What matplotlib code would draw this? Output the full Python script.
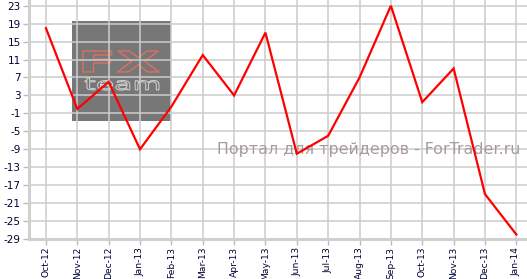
import matplotlib
matplotlib.use('Agg')
import matplotlib.pyplot as plt
from matplotlib.patches import Rectangle, PathPatch
from matplotlib.textpath import TextPath
from matplotlib.font_manager import FontProperties
from matplotlib.transforms import Affine2D

# ── DATA ─────────────────────────────────────────────────────────────────────
months = ['Oct-12', 'Nov-12', 'Dec-12', 'Jan-13', 'Feb-13', 'Mar-13', 'Apr-13',
          'May-13', 'Jun-13', 'Jul-13', 'Aug-13', 'Sep-13', 'Oct-13', 'Nov-13',
          'Dec-13', 'Jan-14']
values = [18, 0, 6, -9, 0.5, 12, 3, 17, -10, -6, 7, 23, 1.5, 9, -19, -28]
y_ticks = list(range(-29, 24, 4))

GRID = '#cccccc'
LABEL = '#000033'

fig = plt.figure(figsize=(5.27, 2.79), dpi=100, facecolor='white')
ax = fig.add_axes([29 / 527, 40 / 279, 498 / 527, 239 / 279])

x = list(range(len(months)))
ax.plot(x, values, color='#ff0000', linewidth=1.6, zorder=3,
        solid_joinstyle='miter')

ax.set_xlim(-0.54, len(months) - 1 + 0.34)
ax.set_ylim(-29, 24.27)
ax.set_xticks(x)
ax.set_xticklabels(months, rotation=90)
ax.set_yticks(y_ticks)
ax.set_yticklabels([str(v) for v in y_ticks])
ax.tick_params(axis='both', colors='#bbbbbb', labelcolor=LABEL,
               length=4, width=1, direction='out')
ax.tick_params(axis='x', labelsize=6.6, pad=1.5)
ax.tick_params(axis='y', labelsize=7.5, pad=2)

ax.grid(True, color=GRID, linewidth=1.1)
for side in ('top', 'right'):
    ax.spines[side].set_visible(False)
for side in ('left', 'bottom'):
    ax.spines[side].set_color('#d0d0d0')
    ax.spines[side].set_linewidth(2.2)

# ── LOGO (under the grid) ────────────────────────────────────────────────────
ax.add_patch(Rectangle((0.0863, 0.495), 0.199, 0.417, transform=ax.transAxes,
                       facecolor='#777777', edgecolor='none', zorder=1))


def fit_text(txt, box, color, weight='normal', lw=0.6):
    path = TextPath((0, 0), txt, size=10,
                    prop=FontProperties(family='DejaVu Sans', weight=weight))
    bb = path.get_extents()
    x0, y0, w, h = box
    tr = (Affine2D().translate(-bb.x0, -bb.y0)
          .scale(w / bb.width, h / bb.height).translate(x0, y0) + ax.transAxes)
    ax.add_patch(PathPatch(path, transform=tr, facecolor='none',
                           edgecolor=color, linewidth=lw, zorder=1.2))


fit_text('FX', (0.1084, 0.699, 0.1526, 0.0879), '#dc705e', 'bold', 1.0)
fit_text('team', (0.1124, 0.623, 0.1486, 0.050), '#d4d4d4', 'normal', 0.7)

# ── WATERMARK ────────────────────────────────────────────────────────────────
ax.text(0.986, 0.356, 'Портал для трейдеров - ForTrader.ru',
        transform=ax.transAxes, ha='right', va='baseline', fontsize=11.4,
        color='#a89a9a', zorder=2)

fig.savefig('out.png', dpi=100, facecolor='white')
